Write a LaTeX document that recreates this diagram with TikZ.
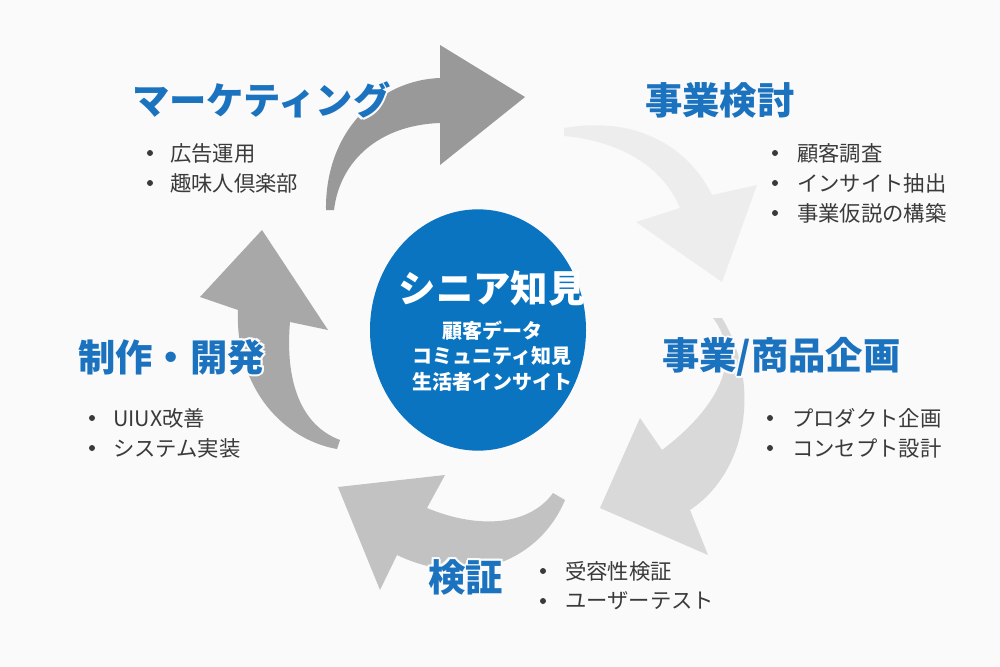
\documentclass[tikz,border=0pt]{standalone}
\usetikzlibrary{shapes.geometric}
\usepackage{fontspec}
\setmainfont{Noto Sans CJK JP}
\definecolor{bg}{HTML}{FAFAFA}
\definecolor{tblue}{HTML}{1B72BE}
\definecolor{cblue}{HTML}{0B74C1}
\definecolor{tgray}{HTML}{3A3A3A}
\begin{document}
\begin{tikzpicture}[x=0.75pt,y=-0.75pt,
  ttl/.style={anchor=west,text=tblue,font=\bfseries\fontsize{28}{32}\selectfont,inner sep=0},
  item/.style={anchor=west,text=tgray,font=\fontsize{16}{18}\selectfont,inner sep=0},
  dot/.style={circle,fill=tgray,inner sep=0,minimum size=4.5pt}]
\fill[bg] (0,0) rectangle (1000,667);
\useasboundingbox (0,0) rectangle (1000,667);
% arrows
\fill[black!40] (326,210) .. controls (325,130) and (380,80) .. (440,78) -- (440,45) -- (525,97) -- (440,165) -- (440,123) .. controls (380,125) and (340,160) .. (334,210) -- cycle;
\fill[black!7] (564,128) .. controls (640,115) and (690,150) .. (712,195) -- (757,185) -- (722,282) -- (636,222) -- (680,208) .. controls (660,160) and (610,140) .. (564,136) -- cycle;
\fill[black!15] (713,318) .. controls (745,360) and (715,410) .. (662,450) -- (640,418) -- (600,508) -- (708,555) -- (690,510) .. controls (750,470) and (760,380) .. (722,318) -- cycle;
\fill[black!24] (553,493) .. controls (530,525) and (480,530) .. (427,508) -- (445,475) -- (338,487) -- (380,590) -- (397,555) .. controls (470,590) and (540,560) .. (565,500) -- cycle;
\fill[black!34] (340,440) .. controls (300,425) and (285,380) .. (290,322) -- (328,330) -- (262,230) -- (200,297) -- (238,310) .. controls (235,390) and (285,440) .. (337,449) -- cycle;
% center
\node[ellipse,fill=cblue,minimum width=162pt,minimum height=181pt,inner sep=0] (c) at (478,330) {};
\node[text=white,font=\bfseries\fontsize{28}{32}\selectfont] (ct) at (492,288) {シニア知見};
\node[text=white,font=\bfseries\fontsize{15}{17}\selectfont,align=center] (cs) at (492,356) {顧客データ\\[2pt]コミュニティ知見\\[2pt]生活者インサイト};
% titles with halo
\foreach \dx/\dy in {-2/0,2/0,0/-2,0/2,-1.5/-1.5,1.5/1.5,-1.5/1.5,1.5/-1.5}{
  \node[ttl,text=bg] at ([shift={(\dx,\dy)}]132,100) {マーケティング};
  \node[ttl,text=bg] at ([shift={(\dx,\dy)}]78,357) {制作・開発};
  \node[ttl,text=bg] at ([shift={(\dx,\dy)}]428,577) {検証};
  \node[ttl,text=bg] at ([shift={(\dx,\dy)}]662,357) {事業/商品企画};
}
\node[ttl] (t1) at (132,100) {マーケティング};
\node[ttl] (t2) at (645,100) {事業検討};
\node[ttl] (t3) at (662,357) {事業/商品企画};
\node[ttl] (t4) at (428,577) {検証};
\node[ttl] (t5) at (78,357) {制作・開発};
% items
\node[dot] (d11) at (150,153) {}; \node[item] (i11) at (170,153) {広告運用};
\node[dot] (d12) at (150,183) {}; \node[item] (i12) at (170,183) {趣味人倶楽部};
\node[dot] (d21) at (775,153) {}; \node[item] (i21) at (797,153) {顧客調査};
\node[dot] (d22) at (775,183) {}; \node[item] (i22) at (797,183) {インサイト抽出};
\node[dot] (d23) at (775,213) {}; \node[item] (i23) at (797,213) {事業仮説の構築};
\node[dot] (d31) at (770,418) {}; \node[item] (i31) at (792,418) {プロダクト企画};
\node[dot] (d32) at (770,448) {}; \node[item] (i32) at (792,448) {コンセプト設計};
\node[dot] (d41) at (543,571) {}; \node[item] (i41) at (565,571) {受容性検証};
\node[dot] (d42) at (543,601) {}; \node[item] (i42) at (565,601) {ユーザーテスト};
\node[dot] (d51) at (92,418) {}; \node[item] (i51) at (113,418) {UIUX改善};
\node[dot] (d52) at (92,448) {}; \node[item] (i52) at (113,448) {システム実装};
\end{tikzpicture}
\end{document}
